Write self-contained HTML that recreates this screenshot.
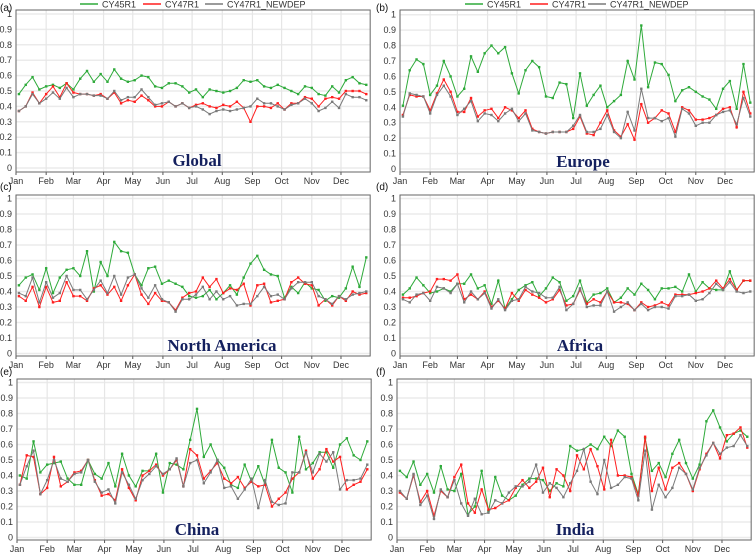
<!DOCTYPE html>
<html><head><meta charset="utf-8"><style>
html,body{margin:0;padding:0;background:#fff;}
svg{display:block;font-family:"Liberation Sans",sans-serif;}
</style></head><body>
<svg id="chart" width="755" height="555" viewBox="0 0 755 555" xmlns="http://www.w3.org/2000/svg"></svg>
<script>
const months = ["Jan","Feb","Mar","Apr","May","Jun","Jul","Aug","Sep","Oct","Nov","Dec"];
const monthDays = [0,31,59,90,120,151,181,212,243,273,304,334];
const yTicks = [0,0.1,0.2,0.3,0.4,0.5,0.6,0.7,0.8,0.9,1];
const seriesNames = ["CY45R1","CY47R1","CY47R1_NEWDEP"];
const regionTitles = ["Global","Europe","North America","Africa","China","India"];

const globalGreen=[.48,.54,.59,.51,.53,.54,.52,.55,.51,.58,.63,.56,.61,.56,.64,.58,.56,.57,.60,.59,.53,.52,.55,.55,.53,.49,.51,.46,.51,.50,.49,.50,.52,.57,.56,.57,.53,.52,.54,.52,.50,.48,.53,.52,.48,.47,.53,.49,.57,.59,.55,.54];
const globalRed=[.37,.40,.49,.42,.48,.53,.46,.55,.49,.48,.48,.47,.48,.45,.49,.42,.44,.43,.47,.44,.40,.40,.43,.40,.42,.39,.41,.42,.40,.39,.41,.40,.43,.39,.30,.40,.40,.39,.42,.38,.42,.42,.46,.45,.40,.45,.46,.45,.50,.50,.50,.48];
const globalGray=[.37,.40,.48,.42,.45,.49,.45,.52,.46,.48,.48,.47,.47,.45,.50,.44,.46,.46,.51,.46,.41,.42,.43,.40,.42,.39,.40,.38,.35,.37,.38,.37,.38,.39,.40,.45,.42,.42,.40,.38,.41,.42,.45,.42,.37,.39,.43,.39,.48,.46,.46,.44];

const europeGreen=[.41,.64,.71,.68,.48,.54,.70,.60,.47,.52,.73,.63,.75,.80,.75,.79,.62,.49,.64,.70,.66,.47,.46,.56,.55,.33,.62,.41,.48,.54,.40,.44,.48,.70,.58,.93,.53,.69,.68,.61,.44,.51,.53,.50,.47,.45,.39,.52,.57,.39,.68,.43];
const europeRed=[.35,.48,.47,.47,.38,.49,.58,.50,.37,.37,.46,.34,.38,.39,.33,.40,.38,.33,.38,.26,.24,.23,.24,.24,.24,.26,.34,.23,.22,.30,.38,.25,.21,.29,.19,.42,.30,.33,.38,.36,.24,.40,.38,.32,.32,.33,.35,.39,.40,.27,.50,.36];
const europeGray=[.34,.49,.48,.47,.36,.48,.54,.47,.35,.39,.44,.31,.36,.35,.31,.36,.39,.31,.36,.25,.24,.23,.24,.24,.24,.28,.35,.24,.24,.26,.35,.24,.20,.37,.25,.52,.33,.33,.31,.33,.21,.39,.36,.28,.30,.30,.35,.37,.38,.29,.46,.34];

const naGreen=[.44,.49,.51,.41,.55,.39,.49,.54,.55,.50,.66,.40,.59,.50,.72,.66,.65,.51,.44,.55,.56,.45,.47,.45,.43,.37,.36,.37,.41,.35,.39,.44,.38,.49,.58,.63,.54,.51,.50,.36,.43,.39,.46,.42,.41,.34,.37,.36,.42,.56,.43,.62];
const naRed=[.37,.34,.43,.30,.43,.33,.34,.46,.37,.37,.34,.42,.44,.38,.43,.34,.44,.51,.38,.32,.39,.34,.33,.28,.36,.39,.40,.49,.43,.48,.39,.42,.41,.45,.31,.44,.45,.33,.34,.35,.46,.49,.45,.44,.31,.35,.31,.37,.34,.40,.38,.39];
const naGray=[.39,.37,.49,.33,.46,.36,.39,.50,.41,.41,.35,.41,.47,.39,.50,.38,.49,.51,.42,.36,.44,.35,.33,.27,.35,.35,.38,.43,.35,.40,.35,.37,.31,.32,.32,.37,.43,.37,.38,.35,.42,.46,.46,.46,.37,.35,.32,.37,.35,.38,.39,.40];

const africaGreen=[.38,.42,.49,.44,.39,.40,.42,.40,.45,.45,.51,.42,.44,.32,.47,.29,.35,.41,.44,.46,.37,.42,.49,.46,.34,.37,.47,.33,.38,.39,.42,.33,.36,.42,.38,.45,.41,.35,.42,.42,.43,.40,.51,.40,.46,.42,.41,.41,.53,.41,.47,.47];
const africaRed=[.36,.36,.37,.39,.40,.48,.48,.47,.51,.35,.38,.35,.40,.30,.34,.29,.39,.34,.41,.38,.36,.33,.35,.41,.31,.32,.41,.32,.35,.33,.40,.33,.33,.32,.28,.33,.30,.31,.33,.31,.38,.38,.38,.39,.40,.42,.47,.42,.48,.41,.47,.47];
const africaGray=[.35,.33,.38,.39,.34,.43,.42,.39,.45,.33,.40,.35,.39,.29,.35,.28,.34,.35,.43,.40,.39,.36,.36,.43,.28,.32,.42,.30,.31,.31,.40,.27,.30,.33,.28,.32,.28,.30,.30,.29,.37,.37,.38,.34,.35,.39,.45,.41,.46,.40,.39,.40];

const chinaGreen=[.40,.38,.62,.42,.47,.48,.49,.38,.34,.34,.50,.41,.38,.48,.33,.54,.40,.33,.43,.43,.54,.29,.48,.47,.44,.63,.83,.52,.60,.50,.45,.34,.32,.47,.36,.46,.34,.63,.45,.42,.29,.65,.44,.48,.55,.55,.45,.60,.64,.53,.50,.62];
const chinaRed=[.34,.53,.52,.28,.32,.52,.33,.36,.42,.43,.50,.37,.27,.28,.24,.44,.32,.24,.40,.43,.47,.40,.44,.50,.33,.57,.53,.38,.43,.48,.38,.35,.39,.32,.36,.33,.34,.20,.25,.29,.38,.42,.56,.38,.44,.57,.49,.52,.31,.34,.36,.44];
const chinaGray=[.34,.46,.56,.28,.37,.50,.38,.36,.41,.42,.50,.36,.29,.31,.22,.42,.34,.25,.37,.41,.46,.41,.44,.51,.33,.48,.50,.35,.42,.50,.32,.33,.25,.31,.38,.19,.37,.23,.21,.22,.42,.42,.55,.42,.54,.49,.55,.31,.37,.37,.38,.47];

const indiaGreen=[.43,.39,.49,.34,.41,.29,.46,.31,.30,.41,.15,.20,.43,.17,.39,.27,.24,.27,.34,.38,.38,.37,.30,.35,.33,.59,.56,.57,.60,.57,.65,.59,.69,.65,.41,.28,.64,.43,.48,.39,.54,.63,.48,.38,.47,.75,.82,.71,.62,.67,.69,.65];
const indiaRed=[.29,.25,.40,.23,.30,.14,.30,.26,.39,.47,.22,.16,.31,.18,.19,.22,.24,.32,.37,.32,.36,.45,.26,.44,.40,.30,.53,.44,.57,.46,.31,.63,.40,.40,.39,.27,.65,.30,.45,.31,.45,.48,.41,.30,.44,.54,.61,.51,.66,.67,.71,.58];
const indiaGray=[.30,.25,.41,.21,.27,.12,.31,.26,.37,.22,.14,.25,.15,.16,.24,.22,.29,.33,.33,.36,.47,.29,.35,.32,.26,.35,.43,.57,.36,.28,.50,.32,.34,.39,.38,.24,.56,.18,.34,.26,.32,.45,.41,.31,.45,.53,.61,.54,.58,.59,.66,.59];

const svg=document.getElementById('chart');
const NS="http://www.w3.org/2000/svg";
function mk(tag,attrs,parent){const e=document.createElementNS(NS,tag);for(const k in attrs)e.setAttribute(k,attrs[k]);(parent||svg).appendChild(e);return e;}
const colors=["#2eaa3a","#ff1f1f","#7a7a7a"];
const K=0.973;
const panels=[
 {id:"a",x0:16,yt:10,y1:14,y0:168,yb:172,my:184,data:[globalGreen,globalRed,globalGray],lx:0,ly:11,tx:197,ty:166},
 {id:"b",x0:400,yt:10,y1:14.7,y0:169,yb:172,my:184,data:[europeGreen,europeRed,europeGray],lx:376,ly:11,tx:583,ty:167},
 {id:"c",x0:16,yt:195,y1:198.5,y0:353.5,yb:356,my:368,data:[naGreen,naRed,naGray],lx:0,ly:190,tx:222,ty:351},
 {id:"d",x0:400,yt:195,y1:198.5,y0:353.5,yb:356,my:368,data:[africaGreen,africaRed,africaGray],lx:376,ly:190,tx:580,ty:351},
 {id:"e",x0:17,yt:379,y1:382.5,y0:537.5,yb:540,my:552,data:[chinaGreen,chinaRed,chinaGray],lx:0,ly:375,tx:197,ty:535},
 {id:"f",x0:397,yt:379,y1:382.5,y0:537.5,yb:540,my:552,data:[indiaGreen,indiaRed,indiaGray],lx:376,ly:375,tx:575,ty:535}
];
panels.forEach((p,pi)=>{
 const g=mk('g',{});
 
 
 const xs=d=>p.x0+d*K;
 const ys=v=>p.y0+(p.y1-p.y0)*v;
 const xr=xs(364);
 yTicks.forEach(t=>{mk('line',{x1:p.x0,x2:xr,y1:ys(t),y2:ys(t),stroke:"#ebebeb","stroke-width":1.5},g);
  const tl=mk('text',{x:p.x0-4,y:ys(t)+3,"font-size":9,"text-anchor":"end",fill:"#333"},g);tl.textContent=String(t);
  
  });
 months.forEach((m,i)=>{const x=xs(monthDays[i]);
  mk('line',{x1:x,x2:x,y1:p.yt,y2:p.yb,stroke:"#e6e6e6","stroke-width":1.2},g);
  mk('line',{x1:x,x2:x,y1:p.yb,y2:p.yb+3,stroke:"#555"},g);
  const tl=mk('text',{x:x,y:p.my,"font-size":9,"text-anchor":"middle",fill:"#333"},g);tl.textContent=m;
  
  });
 mk('rect',{x:p.x0,y:p.yt,width:xr-p.x0,height:p.yb-p.yt,fill:"none",stroke:"#666","stroke-width":1},g);
 p.data.forEach((arr,si)=>{
  const pts=arr.map((v,i)=>[xs(3+i*7),ys(v)]);
  const pl=mk('polyline',{points:pts.map(q=>q[0].toFixed(1)+','+q[1].toFixed(1)).join(' '),fill:"none",stroke:colors[si],"stroke-width":1},g);
  
  
  pts.forEach(q=>{mk('rect',{x:q[0]-1.2,y:q[1]-1.2,width:2.4,height:2.4,fill:colors[si]},g);});
 });
 const t=mk('text',{x:p.tx,y:p.ty,"font-size":17,"font-weight":"bold","text-anchor":"middle",fill:"#14205e","font-family":"Liberation Serif, serif"},g);
 t.textContent=regionTitles[pi];
 
 
 const lb=mk('text',{x:p.lx,y:p.ly,"font-size":10,fill:"#111"},g);lb.textContent='('+p.id+')';
 
 
});
const legends=[[80,143,205],[465,530,588]];
legends.forEach(L=>{
 const lg=mk('g',{});
 
 
 L.forEach((x,si)=>{
  mk('line',{x1:x,x2:x+18,y1:4,y2:4,stroke:colors[si],"stroke-width":1.5},lg);
  const t=mk('text',{x:x+22,y:7.5,"font-size":9,fill:"#333"},lg);t.textContent=seriesNames[si];
  
  
 });
});
</script>
</body></html>
